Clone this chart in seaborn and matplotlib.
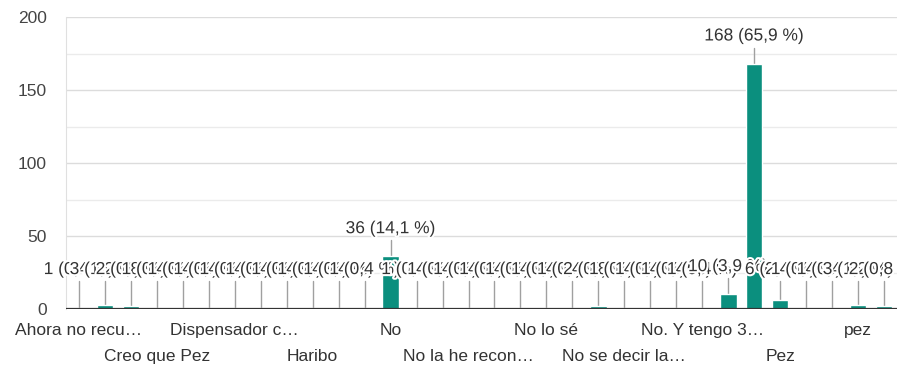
import matplotlib
matplotlib.use("Agg")
import matplotlib.pyplot as plt
import matplotlib.patheffects as pe
import seaborn as sns
import pandas as pd

# answers in the order of the chart (only every third one has a visible label)
labels = ["Ahora no recu…", "", "", "Creo que Pez", "", "", "Dispensador c…", "", "",
          "Haribo", "", "", "No", "", "", "No la he recon…", "", "", "No lo sé", "", "",
          "No se decir la…", "", "", "No. Y tengo 3…", "", "", "Pez", "", "", "pez", ""]
counts = [1, 3, 2, 1, 1, 1, 1, 1, 1, 1, 1, 1, 36, 1, 1, 1, 1, 1, 1, 1, 2, 1, 1, 1,
          1, 10, 168, 6, 1, 1, 3, 2]
total = 255
y_ticks = [0, 50, 100, 150, 200]
y_minor = [25, 75, 125, 175]

df = pd.DataFrame({"pos": range(len(counts)), "count": counts})

sns.set_style("white")
plt.rcParams["font.family"] = ["Liberation Sans", "DejaVu Sans"]

fig = plt.figure(figsize=(8.97, 3.72), dpi=100)
ax = fig.add_axes([66 / 897, 63 / 372, 831 / 897, 292 / 372])

sns.barplot(data=df, x="pos", y="count", color="#0b8f7e", saturation=1,
            width=0.64, ax=ax, zorder=2)

ax.set_ylim(0, 200)
ax.set_yticks(y_ticks)
ax.set_yticks(y_minor, minor=True)
ax.grid(axis="y", which="major", color="#dcdcdc", lw=1, zorder=0)
ax.grid(axis="y", which="minor", color="#ebebeb", lw=1, zorder=0)
ax.axhline(0, color="#333333", lw=1.6, zorder=3)
for s in ["top", "right", "bottom"]:
    ax.spines[s].set_visible(False)
ax.spines["left"].set_color("#e0e0e0")
ax.tick_params(axis="y", which="both", length=0, pad=14, labelsize=12.5,
               labelcolor="#444444")

# staggered category labels: two rows
pos = list(range(len(labels)))
row1 = [p for p in pos if labels[p] and (p // 3) % 2 == 0]
row2 = [p for p in pos if labels[p] and (p // 3) % 2 == 1]
ax.set_xticks(row1, [labels[p] for p in row1])
ax.set_xticks(row2, [labels[p] for p in row2], minor=True)
ax.tick_params(axis="x", which="major", length=0, pad=10, labelsize=12.5,
               labelcolor="#333333")
ax.tick_params(axis="x", which="minor", length=0, pad=29, labelsize=12.5,
               labelcolor="#333333")
ax.set_xlabel("")
ax.set_ylabel("")
ax.set_xlim(-0.5, len(counts) - 0.5)

# annotations with leader lines, later ones drawn over earlier
for i, v in enumerate(counts):
    pct = f"{v / total * 100:.1f}".replace(".", ",")
    ty = max(v + 19, 27)
    ax.plot([i, i], [v, ty - 8], color="#a0a0a0", lw=1, zorder=1.5)
    ax.text(i, ty, f"{v} ({pct} %)", ha="center", va="center", fontsize=12.5,
            color="#333333", zorder=4 + i * 0.01,
            path_effects=[pe.withStroke(linewidth=3, foreground="white")])

plt.savefig("out.png", dpi=100)
